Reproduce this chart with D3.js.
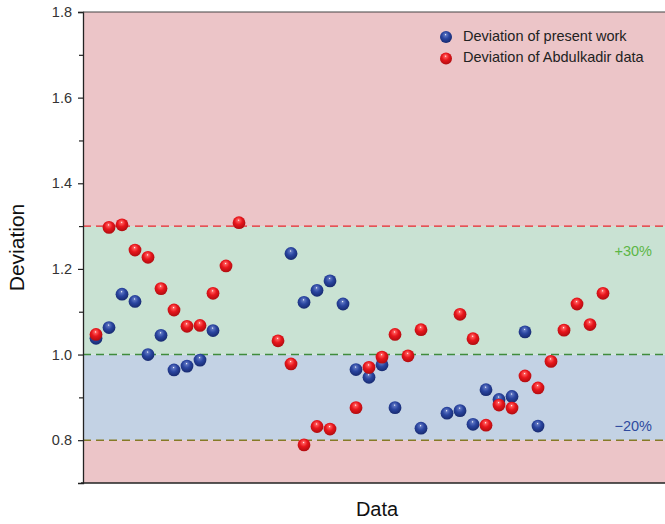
<!DOCTYPE html>
<html>
<head>
<meta charset="utf-8">
<script src="https://cdn.jsdelivr.net/npm/d3@7"></script>
<style>
  html, body { margin: 0; padding: 0; background: #fff; }
  svg { display: block; font-family: "Liberation Sans", Arial, sans-serif; }
</style>
</head>
<body>
<svg id="chart" width="665" height="524"></svg>
<script>
// Sample index (shared x position) for each series
const presentIdx = [1,2,3,4,5,6,7,8,9,10,16,17,18,19,20,21,22,23,24,26,28,29,30,31,32,33,34,35];
const presentVal = [1.038,1.063,1.141,1.124,1.000,1.045,0.964,0.973,0.987,1.056,1.236,1.122,1.150,1.172,1.118,0.965,0.947,0.976,0.876,0.828,0.863,0.869,0.837,0.918,0.895,0.902,1.053,0.833];

const abdulIdx = [1,2,3,4,5,6,7,8,9,10,11,12,15,16,17,18,19,21,22,23,24,25,26,29,30,31,32,33,34,35,36,37,38,39,40];
const abdulVal = [1.047,1.297,1.303,1.244,1.227,1.154,1.104,1.066,1.068,1.143,1.207,1.308,1.032,0.978,0.789,0.832,0.826,0.876,0.970,0.994,1.047,0.997,1.058,1.094,1.037,0.835,0.882,0.875,0.950,0.922,0.984,1.057,1.118,1.070,1.143];

const yTicks = [0.8, 1.0, 1.2, 1.4, 1.6, 1.8];
const yMinorTicks = [0.9, 1.1, 1.3, 1.5, 1.7];
const upperLimit = 1.3, unity = 1.0, lowerLimit = 0.8;
const seriesNames = ["Deviation of present work", "Deviation of Abdulkadir data"];

const svg = d3.select("#chart");
const plotLeft = 83, plotRight = 668, plotTop = 12, plotBottom = 483;

const x = d3.scaleLinear().domain([0, 45]).range([plotLeft, plotRight]);
const y = d3.scaleLinear().domain([0.7, 1.8]).range([plotBottom, plotTop]);

// Gradients for the shaded spheres
const defs = svg.append("defs");
function sphere(id, light, base, dark) {
  const g = defs.append("radialGradient").attr("id", id)
    .attr("cx", "45%").attr("cy", "40%").attr("r", "60%")
    .attr("fx", "47%").attr("fy", "30%");
  g.append("stop").attr("offset", "0%").attr("stop-color", "#ffffff");
  g.append("stop").attr("offset", "14%").attr("stop-color", light);
  g.append("stop").attr("offset", "50%").attr("stop-color", base);
  g.append("stop").attr("offset", "100%").attr("stop-color", dark);
}
sphere("ballBlue", "#5d74c0", "#2a45a0", "#172a70");
sphere("ballRed", "#ff5a5a", "#e8161c", "#b00c10");

// Background bands
const bands = [
  { lo: 0.7, hi: lowerLimit, fill: "#ecc5c8" },
  { lo: lowerLimit, hi: unity, fill: "#c3d2e4" },
  { lo: unity, hi: upperLimit, fill: "#c9e2d3" },
  { lo: upperLimit, hi: 1.8, fill: "#ecc5c8" }
];
svg.append("g").selectAll("rect").data(bands).join("rect")
  .attr("x", plotLeft).attr("width", plotRight - plotLeft)
  .attr("y", d => y(d.hi)).attr("height", d => y(d.lo) - y(d.hi))
  .attr("fill", d => d.fill);

// Reference lines
const refLines = [
  { v: upperLimit, color: "#e8262c" },
  { v: unity, color: "#3f8c3c" },
  { v: lowerLimit, color: "#857a26" }
];
svg.append("g").selectAll("line").data(refLines).join("line")
  .attr("x1", plotLeft).attr("x2", plotRight)
  .attr("y1", d => y(d.v)).attr("y2", d => y(d.v))
  .attr("stroke", d => d.color).attr("stroke-width", 1.4)
  .attr("stroke-dasharray", "8,5");

// Band labels
svg.append("text").attr("x", 652).attr("y", y(1.24)).attr("text-anchor", "end")
  .attr("dominant-baseline", "middle")
  .attr("font-size", 14.5).attr("fill", "#5cb646").text("+30%");
svg.append("text").attr("x", 652).attr("y", y(0.83)).attr("text-anchor", "end")
  .attr("dominant-baseline", "middle")
  .attr("font-size", 14.5).attr("fill", "#2e4a9e").text("\u221220%");

// Axes
const yAxis = d3.axisLeft(y).tickValues(yTicks).tickFormat(d3.format(".1f"))
  .tickSize(5).tickPadding(6);
const gy = svg.append("g").attr("transform", `translate(${plotLeft},0)`).call(yAxis);
gy.select(".domain").attr("stroke", "#222").attr("stroke-width", 1.3);
gy.selectAll(".tick line").attr("stroke", "#222").attr("stroke-width", 1.2);
gy.selectAll(".tick text").attr("font-size", 14.5).attr("fill", "#333")
  .attr("font-family", "Liberation Sans, Arial, sans-serif");
const gyMinor = svg.append("g").attr("transform", `translate(${plotLeft},0)`)
  .call(d3.axisLeft(y).tickValues(yMinorTicks).tickSize(4).tickFormat(""));
gyMinor.select(".domain").remove();
gyMinor.selectAll(".tick line").attr("stroke", "#222").attr("stroke-width", 1.2);

// Top border and bottom axis line
svg.append("line").attr("x1", plotLeft).attr("x2", plotRight).attr("y1", y(1.8)).attr("y2", y(1.8))
  .attr("stroke", "#444").attr("stroke-width", 1.2);
svg.append("line").attr("x1", plotLeft - 2).attr("x2", plotRight).attr("y1", y(0.7)).attr("y2", y(0.7))
  .attr("stroke", "#222").attr("stroke-width", 1.4);

// Points
const r = 6.4;
svg.append("g").selectAll("circle").data(presentIdx.map((d, i) => [d, presentVal[i]])).join("circle")
  .attr("cx", d => x(d[0])).attr("cy", d => y(d[1])).attr("r", r).attr("fill", "url(#ballBlue)");
svg.append("g").selectAll("circle").data(abdulIdx.map((d, i) => [d, abdulVal[i]])).join("circle")
  .attr("cx", d => x(d[0])).attr("cy", d => y(d[1])).attr("r", r).attr("fill", "url(#ballRed)");

// Legend
const legend = svg.append("g");
const legendFills = ["url(#ballBlue)", "url(#ballRed)"];
seriesNames.forEach((name, i) => {
  const ly = 37 + i * 21.5;
  legend.append("circle").attr("cx", 446).attr("cy", ly).attr("r", 6).attr("fill", legendFills[i]);
  legend.append("text").attr("x", 463).attr("y", ly).attr("dominant-baseline", "middle")
    .attr("font-size", 14.5).attr("fill", "#222").text(name);
});

// Axis titles
svg.append("text").attr("transform", `translate(18.5,${(plotTop + plotBottom) / 2}) rotate(-90)`)
  .attr("text-anchor", "middle").attr("dominant-baseline", "middle")
  .attr("font-size", 21).attr("fill", "#111").text("Deviation");
svg.append("text").attr("x", 377).attr("y", 511).attr("text-anchor", "middle")
  .attr("dominant-baseline", "middle")
  .attr("font-size", 20).attr("fill", "#111").text("Data");
</script>
</body>
</html>
